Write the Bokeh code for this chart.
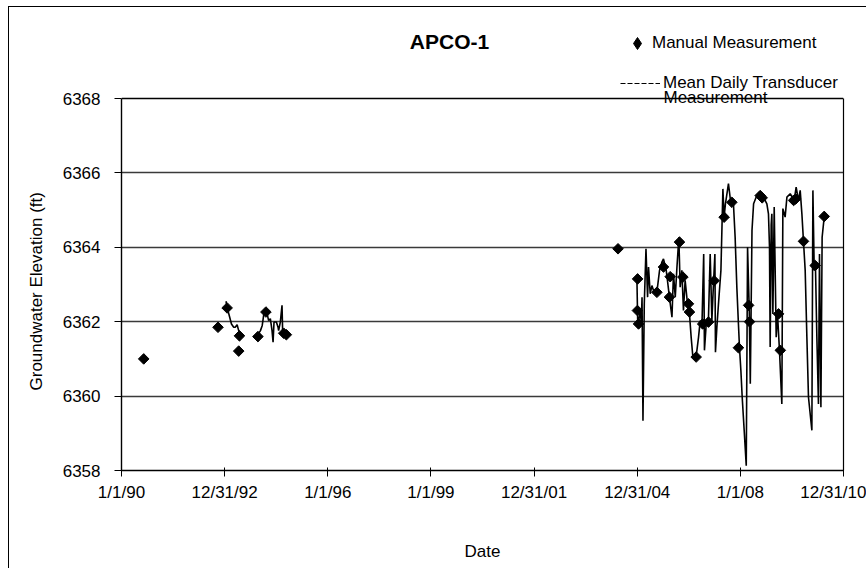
import numpy as np
import pandas as pd
from bokeh.plotting import figure
from bokeh.models import (Range1d, FixedTicker, CustomJSTickFormatter, Legend,
                          LegendItem, Label, ColumnDataSource, LinearAxis, Span, Title)
from bokeh.embed import file_html
from bokeh.resources import INLINE

TITLE = "APCO-1"
X_LABEL = "Date"
Y_LABEL = "Groundwater Elevation (ft)"
MANUAL_LABEL = "Manual Measurement"
TRANSDUCER_LABEL_1 = "Mean Daily Transducer"
TRANSDUCER_LABEL_2 = "Measurement"

TICK_DATES = ["1990-01-01", "1992-12-31", "1996-01-01", "1999-01-01",
              "2001-12-31", "2004-12-31", "2008-01-01", "2010-12-31"]
Y_TICKS = [6358, 6360, 6362, 6364, 6366, 6368]
Y_GRID = [6360, 6362, 6364, 6366]

manual_dates = [
    "1990-08-25", "1992-10-22", "1993-01-27", "1993-05-30", "1993-06-07",
    "1993-12-20", "1994-03-15", "1994-09-20", "1994-10-18",
    "2004-06-10", "2005-01-04", "2005-01-02", "2005-01-14", "2005-07-28",
    "2005-10-06", "2005-12-08", "2005-12-16", "2006-03-25", "2006-04-30",
    "2006-06-28", "2006-07-09", "2006-09-18", "2006-11-26", "2007-01-27",
    "2007-03-28", "2007-07-12", "2007-10-02", "2007-12-11", "2008-03-28",
    "2008-04-07", "2008-07-29", "2008-08-19", "2009-02-09", "2009-02-28",
    "2009-07-19", "2009-08-10", "2009-11-01", "2010-03-05", "2010-06-09",
]
manual_values = [
    6361.00, 6361.85, 6362.37, 6361.21, 6361.62,
    6361.60, 6362.26, 6361.69, 6361.65,
    6363.96, 6363.15, 6362.30, 6361.94, 6362.79,
    6363.47, 6362.66, 6363.21, 6364.14, 6363.20,
    6362.48, 6362.26, 6361.05, 6361.94, 6361.99,
    6363.10, 6364.81, 6365.21, 6361.30, 6362.44,
    6362.00, 6365.39, 6365.33, 6362.21, 6361.23,
    6365.26, 6365.30, 6364.16, 6363.51, 6364.83,
]

transducer_dates = [
    # 1993
    "1993-01-15", "1993-01-30", "1993-02-15", "1993-03-14", "1993-04-07",
    "1993-04-23", "1993-05-13", "1993-05-30", "1993-06-07", "1993-06-18",
    "1993-09-01",
    # 1994
    "1993-12-11", "1993-12-20", "1994-01-01", "1994-01-16", "1994-02-04",
    "1994-02-21", "1994-03-10", "1994-03-28", "1994-04-13", "1994-05-01",
    "1994-05-19", "1994-05-30", "1994-06-09", "1994-07-04", "1994-07-22",
    "1994-07-28", "1994-08-15", "1994-09-02", "1994-09-09", "1994-09-28",
    "1994-10-16",
    "2000-01-01",
    # 2005 - 2010
    "2004-12-28", "2005-01-06", "2005-02-01", "2005-02-12", "2005-02-20",
    "2005-03-02", "2005-03-16", "2005-04-03", "2005-04-20", "2005-04-30",
    "2005-05-18", "2005-06-05", "2005-06-22", "2005-07-28", "2005-08-25",
    "2005-09-19", "2005-10-06", "2005-11-04", "2005-11-17", "2005-12-08",
    "2006-01-04", "2006-01-20", "2006-02-08", "2006-02-26", "2006-03-18",
    "2006-04-01", "2006-04-19", "2006-05-06", "2006-05-24", "2006-06-18",
    "2006-07-09", "2006-07-27", "2006-08-14", "2006-09-08", "2006-09-26",
    "2006-10-13", "2006-10-31", "2006-11-18", "2006-12-07", "2006-12-15",
    "2007-01-03", "2007-01-27", "2007-02-14", "2007-03-04", "2007-03-21",
    "2007-04-05", "2007-04-11", "2007-04-26", "2007-05-13", "2007-06-08",
    "2007-06-29", "2007-07-12", "2007-07-26", "2007-08-27", "2007-09-22",
    "2007-10-19", "2007-11-06", "2007-11-24", "2007-12-11", "2007-12-22",
    "2008-01-06", "2008-01-20", "2008-02-10", "2008-03-03", "2008-03-17",
    "2008-04-04", "2008-04-15", "2008-05-03", "2008-05-20", "2008-06-17",
    "2008-07-22", "2008-09-02", "2008-10-08", "2008-10-25", "2008-11-05",
    "2008-11-12", "2008-11-23", "2008-11-30", "2008-12-11", "2008-12-25",
    "2009-01-15", "2009-01-29", "2009-02-19", "2009-03-16", "2009-03-27",
    "2009-04-20", "2009-05-09", "2009-06-13", "2009-07-25", "2009-08-15",
    "2009-09-09", "2009-09-27", "2009-10-15", "2009-11-01", "2009-11-19",
    "2009-12-07", "2009-12-24", "2010-01-29", "2010-02-09", "2010-02-23",
    "2010-03-08", "2010-03-23", "2010-04-09", "2010-04-20", "2010-05-05",
    "2010-05-18", "2010-06-09", "2010-06-23",
]
transducer_values = [
    6362.55, 6362.35, 6362.20, 6361.94, 6361.85,
    6361.85, 6361.92, 6361.76, 6361.60, 6361.55,
    np.nan,
    6361.58, 6361.65, 6361.70, 6361.76, 6361.90,
    6362.21, 6362.30, 6362.21, 6362.03, 6362.08,
    6361.76, 6361.45, 6361.99, 6361.99, 6361.85,
    6361.76, 6361.99, 6362.44, 6361.70, 6361.72,
    6361.63,
    np.nan,
    6363.11, 6361.85, 6362.30, 6361.94, 6362.66,
    6359.34, 6362.48, 6363.96, 6362.66, 6363.47,
    6362.75, 6362.97, 6362.84, 6362.80, 6363.38,
    6363.60, 6363.69, 6363.38, 6363.11, 6362.66,
    6362.12, 6363.29, 6362.66, 6363.47, 6364.27,
    6362.93, 6363.38, 6362.30, 6363.11, 6362.48,
    6362.21, 6361.58, 6361.05, 6360.96, 6361.23,
    6361.58, 6362.03, 6361.85, 6363.82, 6361.23,
    6361.94, 6362.12, 6363.82, 6362.03, 6363.02,
    6363.82, 6361.18, 6361.85, 6362.48, 6363.38,
    6365.57, 6364.81, 6365.17, 6365.71, 6365.17,
    6365.17, 6364.27, 6362.93, 6361.94, 6361.32,
    6360.69, 6359.97, 6359.08, 6358.13, 6364.00,
    6362.30, 6360.33, 6364.45, 6365.17, 6365.35,
    6365.48, 6365.35, 6365.17, 6364.90, 6364.00,
    6361.32, 6364.60, 6364.90, 6362.21, 6365.08,
    6361.58, 6362.21, 6361.23, 6359.79, 6365.04,
    6364.81, 6365.35, 6365.44, 6365.26, 6365.62,
    6365.26, 6365.53, 6364.90, 6364.16, 6363.38,
    6361.58, 6359.97, 6359.08, 6365.53, 6363.38,
    6363.51, 6361.58, 6359.79, 6363.82, 6359.70,
    6364.27, 6364.81, 6364.90,
]

FONT = "Liberation Sans"

# Plot box geometry (pixels) -- upper part of the frame holds title and legend
FRAME_H = 462          # frame height in px
BOX_H = 372            # height of the 6358..6368 box in px
Y_TOP = Y_TICKS[0] + (Y_TICKS[-1] - Y_TICKS[0]) * FRAME_H / BOX_H

manual_src = ColumnDataSource(dict(date=pd.to_datetime(manual_dates), val=manual_values))
trans_src = ColumnDataSource(dict(date=pd.to_datetime(transducer_dates), val=transducer_values))
legend_src = ColumnDataSource(dict(date=pd.to_datetime([TICK_DATES[0]]), val=[np.nan]))

tick_ms = [int(pd.Timestamp(d).value // 10**6) for d in TICK_DATES]

p = figure(width=858, height=562, x_axis_type="datetime", title=None,
           output_backend="svg", toolbar_location=None,
           x_range=Range1d(pd.Timestamp(TICK_DATES[0]).to_pydatetime(),
                           pd.Timestamp(TICK_DATES[-1]).to_pydatetime()),
           y_range=Range1d(Y_TICKS[0], Y_TOP),
           min_border_left=112, min_border_right=24,
           min_border_top=1, min_border_bottom=99)

p.styles = {"margin-left": "8px", "margin-top": "6px",
            "border-left": "1px solid black", "border-top": "1px solid black"}
p.background_fill_color = "white"
p.border_fill_color = "white"
p.outline_line_color = None

p.xgrid.visible = False
p.ygrid.ticker = FixedTicker(ticks=Y_GRID)
p.ygrid.grid_line_color = "#3a3a3a"
p.ygrid.grid_line_width = 1.3

p.xaxis.ticker = FixedTicker(ticks=tick_ms)
p.xaxis.formatter = CustomJSTickFormatter(code="""
    const d = new Date(tick);
    return (d.getUTCMonth() + 1) + "/" + d.getUTCDate() + "/" +
           String(d.getUTCFullYear()).slice(2);
""")
p.yaxis.ticker = FixedTicker(ticks=Y_TICKS)
p.yaxis.bounds = (Y_TICKS[0], Y_TICKS[-1])

for ax in (p.xaxis[0], p.yaxis[0]):
    ax.axis_line_color = "black"
    ax.axis_line_width = 1.4
    ax.major_tick_line_color = "black"
    ax.major_tick_line_width = 1
    ax.minor_tick_line_color = None
    ax.major_label_text_font = FONT
    ax.major_label_text_font_size = "17px"
    ax.major_label_text_color = "black"
    ax.axis_label_text_font = FONT
    ax.axis_label_text_font_size = "17px"
    ax.axis_label_text_font_style = "normal"
    ax.axis_label_text_color = "black"

p.xaxis.major_tick_out = 6
p.xaxis.major_tick_in = 3
p.xaxis.major_label_standoff = 6
p.xaxis.axis_label = X_LABEL
p.xaxis.axis_label_standoff = 37

p.yaxis.major_tick_out = 7
p.yaxis.major_tick_in = 0
p.yaxis.major_label_standoff = 14

# y-axis title, centred on the 6358..6368 box rather than on the whole frame
p.add_layout(Title(text=Y_LABEL, align="left", offset=80, standoff=27,
                   text_font=FONT, text_font_size="17px",
                   text_font_style="normal", text_color="black"), "left")

# right edge of the plot box
right_ax = LinearAxis(bounds=(Y_TICKS[0], Y_TICKS[-1]), ticker=FixedTicker(ticks=[]),
                      axis_line_color="black", axis_line_width=1.2,
                      major_tick_line_color=None, minor_tick_line_color=None,
                      major_label_text_color=None)
p.add_layout(right_ax, "right")
# top edge of the plot box
p.add_layout(Span(location=Y_TICKS[-1], dimension="width",
                  line_color="black", line_width=1.3))

line_r = p.line(x="date", y="val", source=trans_src, line_color="black", line_width=1.6)
pts_r = p.scatter(x="date", y="val", source=manual_src, marker="square",
                  angle=np.pi / 4, size=7.5, fill_color="black", line_color="black")

# legend sample glyphs (no visible data)
leg_marker = p.scatter(x="date", y="val", source=legend_src, marker="diamond",
                       size=12, fill_color="black", line_color="black")
leg_line = p.line(x="date", y="val", source=legend_src, line_color="black",
                  line_width=1.2, line_dash="5 2")

common = dict(padding=0, margin=0, spacing=0, border_line_color=None,
              background_fill_alpha=0, label_text_font=FONT,
              label_text_font_size="17px", label_text_color="black",
              label_height=20)

leg1 = Legend(items=[LegendItem(label=MANUAL_LABEL, renderers=[leg_marker])],
              location=(501, 412), glyph_width=30, glyph_height=30,
              label_standoff=-3, **common)
leg2 = Legend(items=[LegendItem(label=TRANSDUCER_LABEL_1, renderers=[leg_line])],
              location=(499, 377), glyph_width=40, glyph_height=20,
              label_standoff=3, **common)
p.add_layout(leg1)
p.add_layout(leg2)

p.add_layout(Label(x=542, y=373, x_units="screen", y_units="screen",
                   text=TRANSDUCER_LABEL_2, text_baseline="middle",
                   text_font=FONT, text_font_size="17px", text_color="black"))
p.add_layout(Label(x=328, y=429, x_units="screen", y_units="screen",
                   text=TITLE, text_align="center", text_baseline="middle",
                   text_font=FONT, text_font_size="21px", text_font_style="bold",
                   text_color="black"))

open("out.html", "w").write(file_html(p, INLINE))
